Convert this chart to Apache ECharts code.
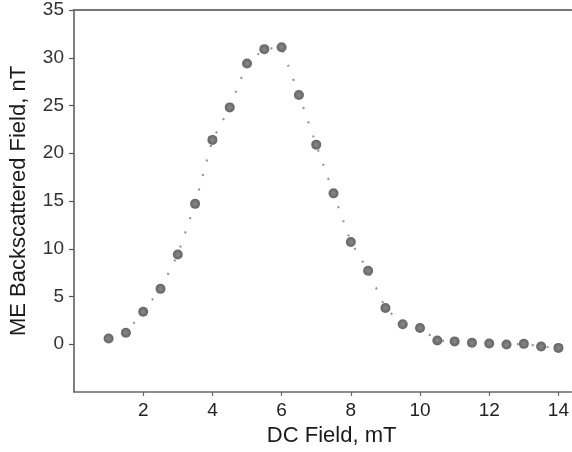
<!DOCTYPE html>
<html>
<head>
<meta charset="utf-8">
<script src="https://cdn.jsdelivr.net/npm/echarts@6/dist/echarts.min.js"></script>
<style>
html,body{margin:0;padding:0;background:#fff;}
#chart{width:572px;height:452px;}
</style>
</head>
<body>
<div id="chart"></div>
<script>
const dcField = [1, 1.5, 2, 2.5, 3, 3.5, 4, 4.5, 5, 5.5, 6, 6.5, 7, 7.5, 8, 8.5, 9, 9.5, 10, 10.5, 11, 11.5, 12, 12.5, 13, 13.5, 14];
const meField = [0.6, 1.2, 3.4, 5.8, 9.4, 14.7, 21.4, 24.8, 29.4, 30.9, 31.1, 26.1, 20.9, 15.8, 10.7, 7.7, 3.8, 2.1, 1.7, 0.4, 0.3, 0.15, 0.07, -0.03, 0.04, -0.24, -0.38];
const xTicks = [2, 4, 6, 8, 10, 12, 14];
const yTicks = [0, 5, 10, 15, 20, 25, 30, 35];
const xTitle = 'DC Field, mT';
const yTitle = 'ME Backscattered Field, nT';

const points = dcField.map((x, i) => [x, meField[i]]);
const font = 'Liberation Sans, Arial, sans-serif';

const chart = echarts.init(document.getElementById('chart'), null, {renderer: 'canvas'});
chart.setOption({
  animation: false,
  backgroundColor: '#ffffff',
  grid: {left: 74, right: 0, top: 10, bottom: 60, containLabel: false},
  xAxis: [{
    type: 'value', min: 0, max: 14.37, interval: 2,
    name: xTitle, nameLocation: 'middle', nameGap: 30,
    nameTextStyle: {fontFamily: font, fontSize: 22, color: '#1a1a1a', padding: [0, 0, 0, 18]},
    axisLine: {show: true, onZero: false, lineStyle: {color: '#666', width: 1.5}},
    axisTick: {show: true, length: 4, inside: false, lineStyle: {color: '#666', width: 1.2},
      customValues: xTicks},
    axisLabel: {fontFamily: font, fontSize: 19, color: '#222', margin: 9,
      customValues: xTicks},
    splitLine: {show: false}
  }, {
    type: 'value', position: 'top', min: 0, max: 14.37,
    axisLine: {show: true, onZero: false, lineStyle: {color: '#777', width: 2}},
    axisTick: {show: false}, axisLabel: {show: false}, splitLine: {show: false}
  }],
  yAxis: {
    type: 'value', min: -5, max: 35, interval: 5,
    name: yTitle, nameLocation: 'middle', nameGap: 44, nameRotate: 90,
    nameTextStyle: {fontFamily: font, fontSize: 22, color: '#1a1a1a'},
    axisLine: {show: true, onZero: false, lineStyle: {color: '#555', width: 1.5}},
    axisTick: {show: true, length: 5, lineStyle: {color: '#555', width: 1.2}, customValues: yTicks},
    axisLabel: {fontFamily: font, fontSize: 19, color: '#333', margin: 10, customValues: yTicks},
    splitLine: {show: false}
  },
  series: [{
    type: 'line',
    data: points,
    symbol: 'circle',
    symbolSize: 10,
    lineStyle: {color: '#8f8f8f', width: 2, type: [2, 13]},
    itemStyle: {
      color: {type: 'radial', x: 0.5, y: 0.5, r: 0.5,
        colorStops: [{offset: 0, color: '#8a8a8a'}, {offset: 0.6, color: '#727272'}, {offset: 1, color: '#666666'}]},
      borderWidth: 0
    },
    z: 3
  }]
});
</script>
</body>
</html>
